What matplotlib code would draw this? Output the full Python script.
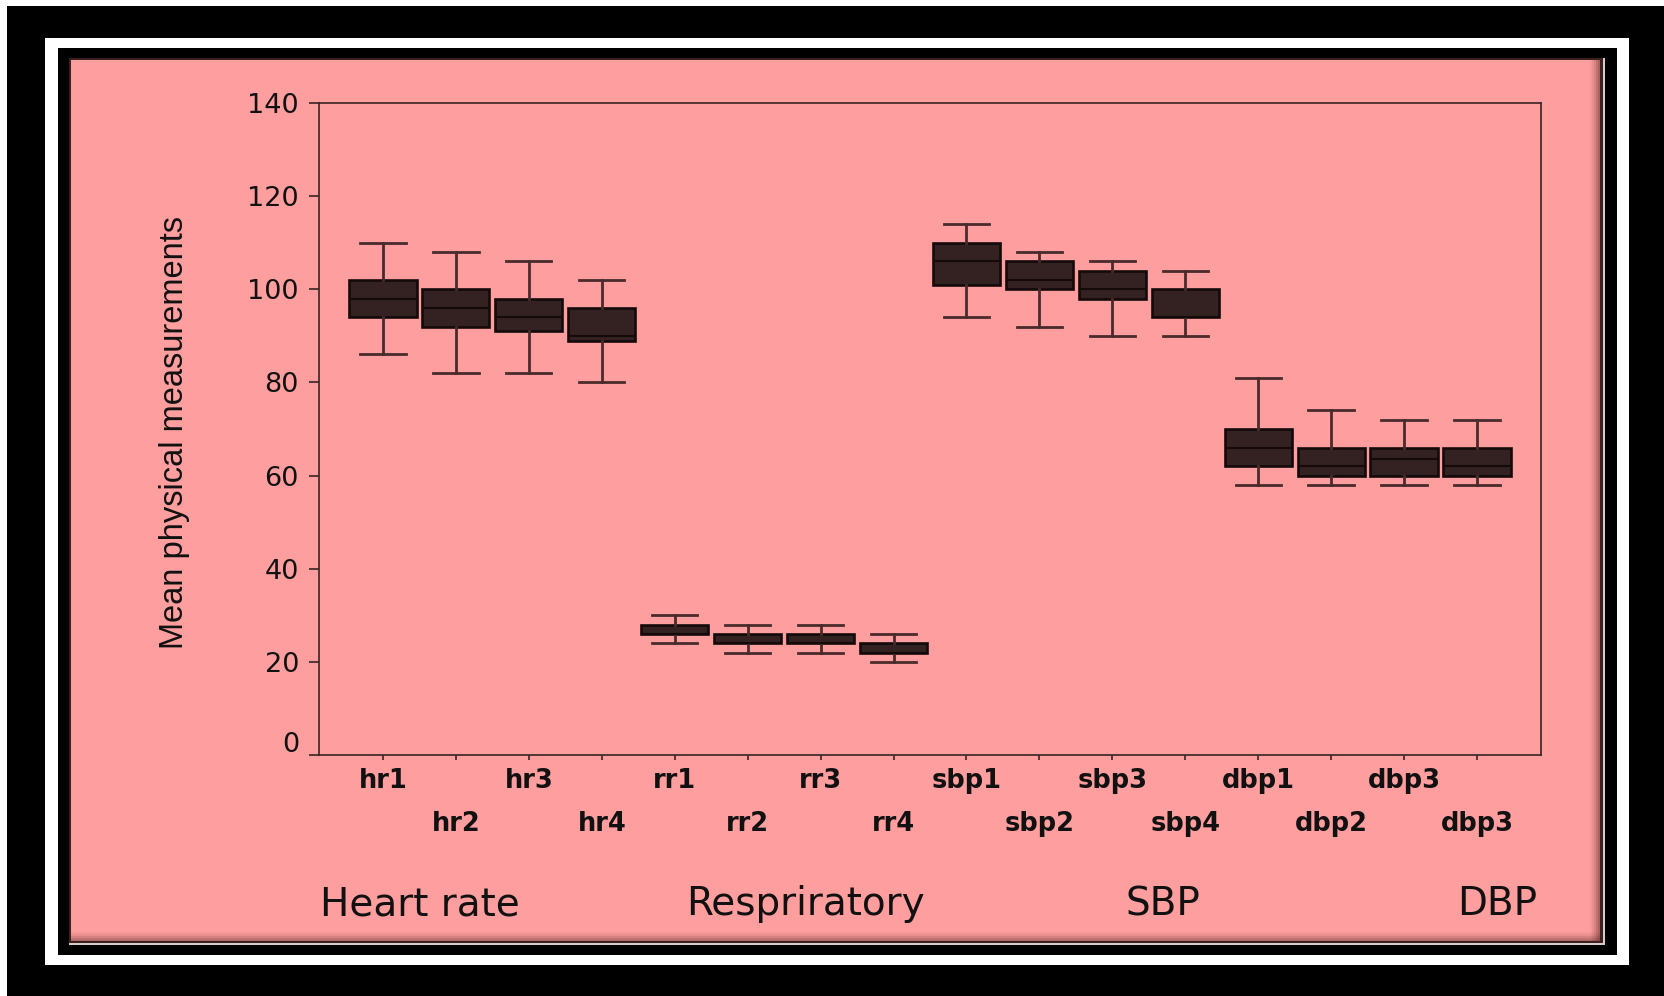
import matplotlib
matplotlib.use("Agg")
import matplotlib.pyplot as plt
from matplotlib.patches import Rectangle
from matplotlib.transforms import ScaledTranslation

# ---------------- data ----------------
labels = ["hr1", "hr2", "hr3", "hr4", "rr1", "rr2", "rr3", "rr4",
          "sbp1", "sbp2", "sbp3", "sbp4", "dbp1", "dbp2", "dbp3", "dbp3"]
whisker_low = [86, 82, 82, 80, 24, 22, 22, 20, 94, 92, 90, 90, 58, 58, 58, 58]
q1 = [94, 92, 91, 89, 26, 24, 24, 22, 101, 100, 98, 94, 62, 60, 60, 60]
medians = [98, 96, 94, 90, 26, 24, 24, 22, 106, 102, 100, 94, 66, 62, 63.5, 62]
q3 = [102, 100, 98, 96, 28, 26, 26, 24, 110, 106, 104, 100, 70, 66, 66, 66]
whisker_high = [110, 108, 106, 102, 30, 28, 28, 26, 114, 108, 106, 104, 81, 74, 72, 72]
group_labels = ["Heart rate", "Respriratory", "SBP", "DBP"]
y_ticks = [0, 20, 40, 60, 80, 100, 120, 140]
y_label = "Mean physical measurements"

# ---------------- style ----------------
W, H = 1664, 996
PINK = "#ff9e9e"
DARK = "#3a2424"
BOX_FACE = "#342121"
BOX_EDGE = "#140a0a"
WHISK = "#4a2b2b"

fig = plt.figure(figsize=(W / 100, H / 100), dpi=100)
fig.patch.set_facecolor("white")


def frect(x0, y0, x1, y1, z, **kw):
    r = Rectangle((x0 / W, 1 - y1 / H), (x1 - x0) / W, (y1 - y0) / H,
                  transform=fig.transFigure, zorder=z, linewidth=0, **kw)
    fig.add_artist(r)


# layered frame
frect(7, 6, 1664, 996, -20, facecolor="black")
frect(45, 38, 1629, 965, -19, facecolor="white")
frect(58, 48, 1617, 955, -18, facecolor="black")
frect(69, 58, 1605, 945, -17, facecolor="#d9c9c9")
frect(69, 58, 1603, 943, -16, facecolor="#3a2020")
frect(71, 60, 1600, 941, -15, facecolor=PINK)
# soft shadow on right / bottom edges of panel
for i, a in enumerate([0.05, 0.08, 0.12, 0.17, 0.23]):
    frect(1590 + 2 * i, 60, 1600, 941, -14 + i * 0.01, facecolor="#5a2a2a", alpha=a)
    frect(71, 932 + 2 * i, 1600, 941, -14 + i * 0.01, facecolor="#5a2a2a", alpha=a)

# axes
ax = fig.add_axes([319 / W, 1 - 755 / H, (1541 - 319) / W, (755 - 103) / H])
ax.set_facecolor("none")

positions = list(range(1, len(labels) + 1))
stats = []
for lab, lo, a, m, b, hi in zip(labels, whisker_low, q1, medians, q3, whisker_high):
    stats.append(dict(label=lab, whislo=lo, q1=a, med=m, q3=b, whishi=hi, fliers=[]))

ax.bxp(stats, positions=positions, widths=0.92, capwidths=0.62,
       patch_artist=True, showfliers=False, manage_ticks=False,
       boxprops=dict(facecolor=BOX_FACE, edgecolor=BOX_EDGE, linewidth=1.9),
       medianprops=dict(color=BOX_EDGE, linewidth=1.5),
       whiskerprops=dict(color=WHISK, linewidth=2.0),
       capprops=dict(color=WHISK, linewidth=2.0))

ax.set_xlim(0.1225, 16.878)
ax.set_ylim(0, 140)

for s in ax.spines.values():
    s.set_color(DARK)
    s.set_linewidth(1.2)

ax.set_yticks(y_ticks)
ax.set_yticklabels([str(v) for v in y_ticks], fontfamily="DejaVu Sans",
                   fontsize=19.5, color="#111111")
ax.tick_params(axis="y", length=7.2, width=1.2, color=DARK, pad=7.2)

ax.set_xticks(positions[0::2])
ax.set_xticklabels(labels[0::2], fontfamily="DejaVu Sans", fontweight="bold",
                   fontsize=18.5, color="#111111")
ax.set_xticks(positions[1::2], minor=True)
ax.set_xticklabels(labels[1::2], minor=True, fontfamily="DejaVu Sans",
                   fontweight="bold", fontsize=18.5, color="#111111")
ax.tick_params(axis="x", which="both", length=3.6, width=1.2, color=DARK)
ax.tick_params(axis="x", which="major", pad=5.8)
ax.tick_params(axis="x", which="minor", pad=36.7)

# lift the "0" label as in the reference
ylabs = ax.get_yticklabels()
ylabs[0].set_transform(ylabs[0].get_transform() +
                       ScaledTranslation(0, 0.13, fig.dpi_scale_trans))

# group labels
group_x = [420, 805, 1163, 1497]
for gx, g in zip(group_x, group_labels):
    fig.text(gx / W, 1 - 915 / H, g, ha="center", va="baseline",
             fontfamily="DejaVu Sans", fontsize=28, color="#111111")

# y label
fig.text(174 / W, 1 - 432 / H, y_label, rotation=90, ha="center", va="center",
         fontfamily="Liberation Sans", fontsize=23.5, color="#111111")

fig.savefig("out.png", dpi=100, facecolor=fig.get_facecolor())
